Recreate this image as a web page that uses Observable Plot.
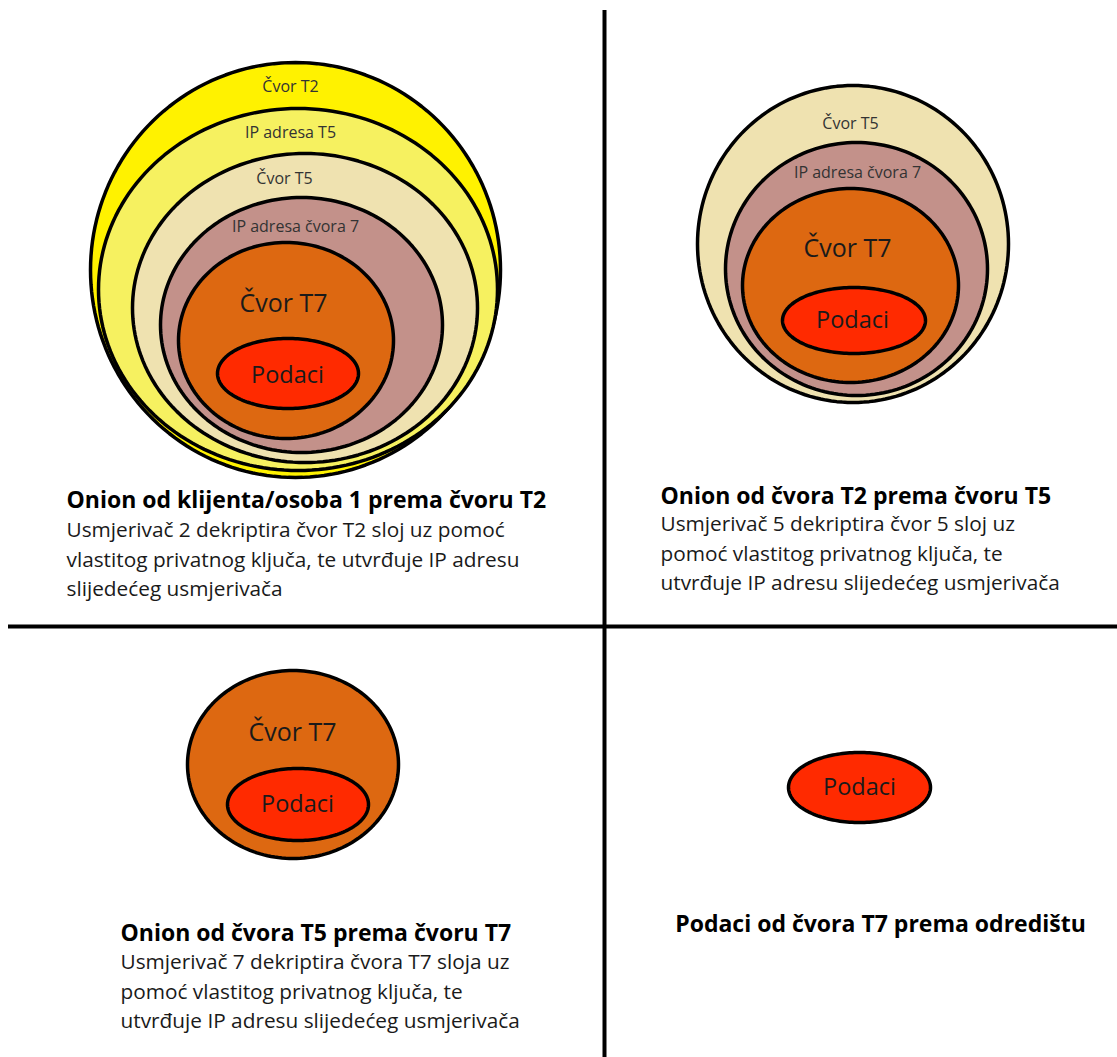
<!DOCTYPE html>
<html>
<head>
<meta charset="utf-8">
<script src="https://cdn.jsdelivr.net/npm/d3@7"></script>
<script src="https://cdn.jsdelivr.net/npm/@observablehq/plot@0.6"></script>
<style>
  html, body { margin: 0; padding: 0; background: #fff; }
  #chart svg { display: block; }
</style>
</head>
<body>
<div id="chart"></div>
<script>
// ---- data: onion layers per panel (bounds: left, right, top, bottom) ----
const layerNames = ["Čvor T2", "IP adresa T5", "Čvor T5", "IP adresa čvora 7", "Čvor T7", "Podaci"];
const layerColors = ["#fff200", "#f6f160", "#efe2b0", "#c3918a", "#dd6811", "#ff2a00"];

const panel1Bounds = [[90, 500, 62, 477], [98, 497, 108, 470], [132, 477, 153, 462], [160, 442, 197, 452], [178, 393, 242, 438], [217, 358, 338, 408]];
const panel1Labels = [[290, 86], [290, 132], [284, 178], [295, 226], [283, 303], [287, 375]];

const panel2Bounds = [[697, 1008, 85, 402], [725, 987, 142, 395], [742, 958, 188, 382], [782, 925, 287, 353]];
const panel2Layers = [2, 3, 4, 5];
const panel2Labels = [[850, 123], [857, 172], [847, 248], [852, 320]];

const panel3Bounds = [[187, 398, 670, 858], [227, 368, 768, 840]];
const panel3Layers = [4, 5];
const panel3Labels = [[292, 732], [297, 804]];

const panel4Bounds = [[788, 930, 752, 822]];
const panel4Layers = [5];
const panel4Labels = [[859, 787]];

const titles = [
  "Onion od klijenta/osoba 1 prema čvoru T2",
  "Onion od čvora T2 prema čvoru T5",
  "Onion od čvora T5 prema čvoru T7",
  "Podaci od čvora T7 prema odredištu"
];
const titlePos = [[66, 500, "start"], [660, 496, "start"], [120, 933, "start"], [880, 924, "middle"]];

const bodyLines = [
  ["Usmjerivač 2 dekriptira čvor T2 sloj uz pomoć", "vlastitog privatnog ključa, te utvrđuje IP adresu", "slijedećeg usmjerivača"],
  ["Usmjerivač 5 dekriptira čvor 5 sloj uz", "pomoć vlastitog privatnog ključa, te", "utvrđuje IP adresu slijedećeg usmjerivača"],
  ["Usmjerivač 7 dekriptira čvora T7 sloja uz", "pomoć vlastitog privatnog ključa, te", "utvrđuje IP adresu slijedećeg usmjerivača"],
  []
];
const bodyStart = [[66, 530], [660, 524], [120, 962], [0, 0]];
const lineGap = 29.5;

const dividerV = {x: 604, y1: 10, y2: 1057};
const dividerH = {y: 626, x1: 8, x2: 1117};

// ---- build tables ----
const W = 1117, H = 1057;
const FONT = "'Open Sans', sans-serif";
const panels = [
  {bounds: panel1Bounds, layers: [0, 1, 2, 3, 4, 5], labels: panel1Labels},
  {bounds: panel2Bounds, layers: panel2Layers, labels: panel2Labels},
  {bounds: panel3Bounds, layers: panel3Layers, labels: panel3Labels},
  {bounds: panel4Bounds, layers: panel4Layers, labels: panel4Labels}
];

const ellipses = [];
const labels = [];
panels.forEach((p, pi) => {
  p.bounds.forEach((b, i) => {
    const li = p.layers[i];
    const cx = (b[0] + b[1]) / 2, cy = (b[2] + b[3]) / 2;
    const rx = (b[1] - b[0]) / 2, ry = (b[3] - b[2]) / 2;
    const pts = d3.range(0, 181).map(k => {
      const a = (k / 180) * 2 * Math.PI;
      return {x: cx + rx * Math.cos(a), y: cy + ry * Math.sin(a)};
    });
    ellipses.push({pts, color: layerColors[li]});
    const big = li >= 4;
    labels.push({x: p.labels[i][0], y: p.labels[i][1], text: layerNames[li],
      size: li === 4 ? 25 : li === 5 ? 23.5 : 16, color: big ? "#1a1a1a" : "#333"});
  });
});

const titleData = titles.map((t, i) => ({x: titlePos[i][0], y: titlePos[i][1], text: t, anchor: titlePos[i][2]}));
const bodyData = [];
bodyLines.forEach((ls, i) => ls.forEach((t, j) => bodyData.push({x: bodyStart[i][0], y: bodyStart[i][1] + j * lineGap, text: t})));

const marks = [];
ellipses.forEach(e => {
  marks.push(Plot.line(e.pts, {x: "x", y: "y", fill: e.color, stroke: "#000", strokeWidth: 3.5, curve: "linear-closed"}));
});
marks.push(Plot.text(labels, {x: "x", y: "y", text: "text", fontSize: d => d.size, fill: "color",
  fontFamily: FONT, textAnchor: "middle", lineAnchor: "middle"}));
marks.push(Plot.ruleX([dividerV.x], {y1: dividerV.y1, y2: dividerV.y2, stroke: "#000", strokeWidth: 4}));
marks.push(Plot.ruleY([dividerH.y], {x1: dividerH.x1, x2: dividerH.x2, stroke: "#000", strokeWidth: 4}));
titleData.forEach(t => {
  marks.push(Plot.text([t], {x: "x", y: "y", text: "text", textAnchor: t.anchor, lineAnchor: "middle",
    fontSize: 23, fontWeight: "bold", fontFamily: FONT, fill: "#000"}));
});
marks.push(Plot.text(bodyData, {x: "x", y: "y", text: "text", textAnchor: "start", lineAnchor: "middle",
  fontSize: 20.8, fontFamily: FONT, fill: "#1a1a1a"}));

const chart = Plot.plot({
  width: W, height: H,
  margin: 0,
  x: {type: "linear", domain: [0, W], range: [0, W], axis: null},
  y: {type: "linear", domain: [0, H], range: [0, H], axis: null},
  fill: {type: "identity"},
  style: {background: "#fff", overflow: "visible"},
  marks
});
document.getElementById("chart").appendChild(chart);
</script>
</body>
</html>
